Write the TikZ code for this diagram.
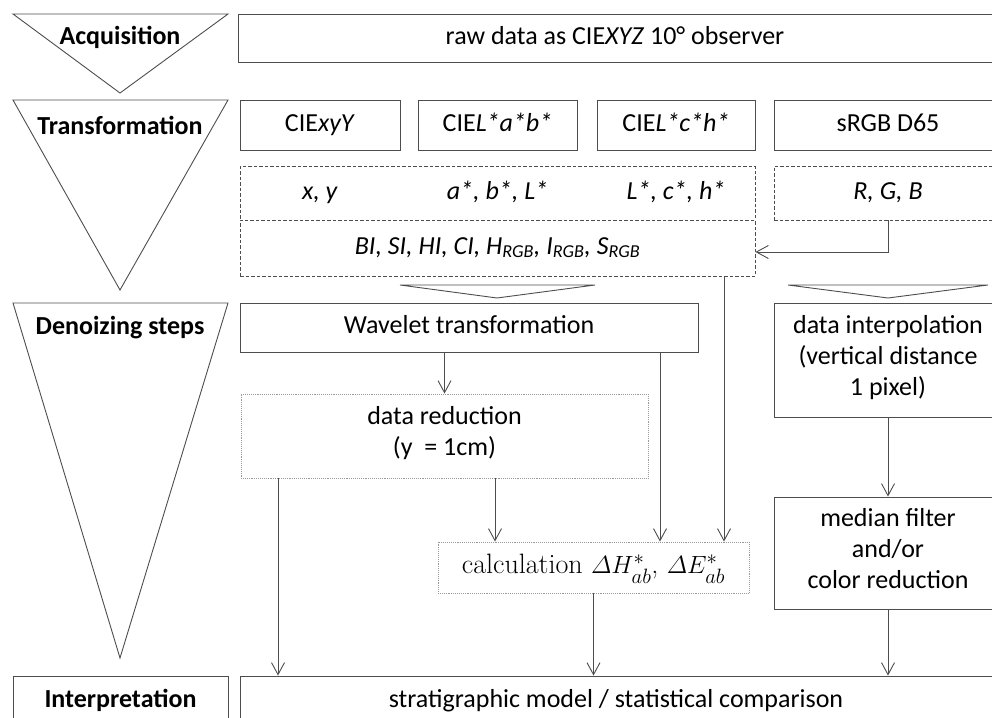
\documentclass[tikz,border=0pt]{standalone}
\usepackage{fontspec}
\usepackage{amsmath}
\setsansfont{Carlito}
\usetikzlibrary{arrows.meta}
\definecolor{edgegray}{HTML}{4D4D4D}
\definecolor{dotgray}{HTML}{9A9A9A}
\begin{document}
\begin{tikzpicture}[
    x=1pt, y=-1pt,
    font=\sffamily\fontsize{26}{31}\selectfont,
    every node/.style={execute at begin node=\strut},
    box/.style={draw=edgegray, line width=0.9pt, fill=white,
                inner sep=0pt, align=center},
    dbox/.style={box, dash pattern=on 3.5pt off 2pt},
    fbox/.style={box, draw=dotgray, densely dotted},
    stage/.style={font=\sffamily\bfseries\fontsize{26}{31}\selectfont},
    tri/.style={draw=edgegray, line width=0.9pt},
    arr/.style={draw=edgegray, line width=0.9pt,
                -{Straight Barb[length=12pt,width=13pt,line width=0.9pt]}}]
  \useasboundingbox (0,0) rectangle (992,717);
  \clip (0,0) rectangle (992,717);
  % stage funnels
  \draw[tri] (13,14) -- (228,14) -- (120,93) -- cycle;
  \draw[tri] (13,100) -- (228,100) -- (120,290) -- cycle;
  \draw[tri] (13,303) -- (228,303) -- (120,658) -- cycle;
  \node[stage] (acq) at (120,38) {Acquisition};
  \node[stage] (trans) at (120,128) {Transformation};
  \node[stage] (deno) at (120,328) {Denoizing steps};
  \node[box, stage, minimum width=215pt, minimum height=50pt] (interp) at (120.5,701) {Interpretation};
  % acquisition and transformation
  \node[box, minimum width=754pt, minimum height=48pt] (raw) at (615,38) {raw data as CIE\textit{XYZ} 10° observer};
  \node[box, minimum width=160pt, minimum height=50pt] (xyy) at (320,125) {CIE\textit{xyY}};
  \node[box, minimum width=159pt, minimum height=50pt] (lab) at (497.5,125) {CIE\textit{L*a*b*}};
  \node[box, minimum width=158pt, minimum height=50pt] (lch) at (676,125) {CIE\textit{L*c*h*}};
  \node[box, minimum width=228pt, minimum height=50pt] (srgb) at (888,125) {sRGB D65};
  \node[dbox, minimum width=515pt, minimum height=54pt] (coord) at (497.5,193) {};
  \node (xy) at (coord -| xyy) {\textit{x, y}};
  \node (abl) at (coord -| lab) {\textit{a*, b*, L*}};
  \node (lcc) at (coord -| lch) {\textit{L*, c*, h*}};
  \node[dbox, minimum width=515pt, minimum height=56pt] (index) at (497.5,248)
    {\textit{BI, SI, HI, CI, H\textsubscript{RGB}, I\textsubscript{RGB}, S\textsubscript{RGB}}};
  \node[dbox, minimum width=228pt, minimum height=54pt] (rgb) at (888,193) {\textit{R, G, B}};
  \draw[tri, fill=white] (400,285) -- (595,285) -- (497,298) -- cycle;
  \draw[tri, fill=white] (788,285) -- (988,285) -- (888,298) -- cycle;
  % denoizing
  \node[box, minimum width=458pt, minimum height=49pt] (wave) at (469,327.5) {Wavelet transformation};
  \node[box, minimum width=228pt, minimum height=114pt] (dint) at (888,360)
    {data interpolation\\(vertical distance\\1 pixel)};
  \node[fbox, minimum width=407pt, minimum height=84pt] (red) at (444.5,436) {data reduction\\(y~ = 1cm)};
  \node[fbox, minimum width=311pt, minimum height=51pt] (calc) at (593.5,567.5)
    {\rmfamily\fontsize{28}{31}\selectfont calculation $\varDelta H^{*}_{ab}$, $\varDelta E^{*}_{ab}$};
  \node[box, minimum width=228pt, minimum height=112pt] (med) at (888,553)
    {median filter\\and/or\\color reduction};
  \node[box, minimum width=752pt, minimum height=50pt] (strat) at (616,701)
    {stratigraphic model / statistical comparison};
  % connectors
  \draw[arr] (rgb.south) |- ([yshift=-4pt]index.east);
  \draw[arr] (red.north |- wave.south) -- (red.north);
  \draw[arr] ([xshift=50.5pt]red.south) -- ([xshift=50.5pt]red.south |- calc.north);
  \draw[arr] ([xshift=191pt]wave.south) -- ([xshift=191pt]wave.south |- calc.north);
  \draw[arr] ([xshift=226.5pt]index.south) -- ([xshift=226.5pt]index.south |- calc.north);
  \draw[arr] ([xshift=-166.5pt]red.south) -- ([xshift=-166.5pt]red.south |- strat.north);
  \draw[arr] (calc.south) -- (calc.south |- strat.north);
  \draw[arr] (dint.south) -- (med.north);
  \draw[arr] (med.south) -- (med.south |- strat.north);
\end{tikzpicture}
\end{document}
